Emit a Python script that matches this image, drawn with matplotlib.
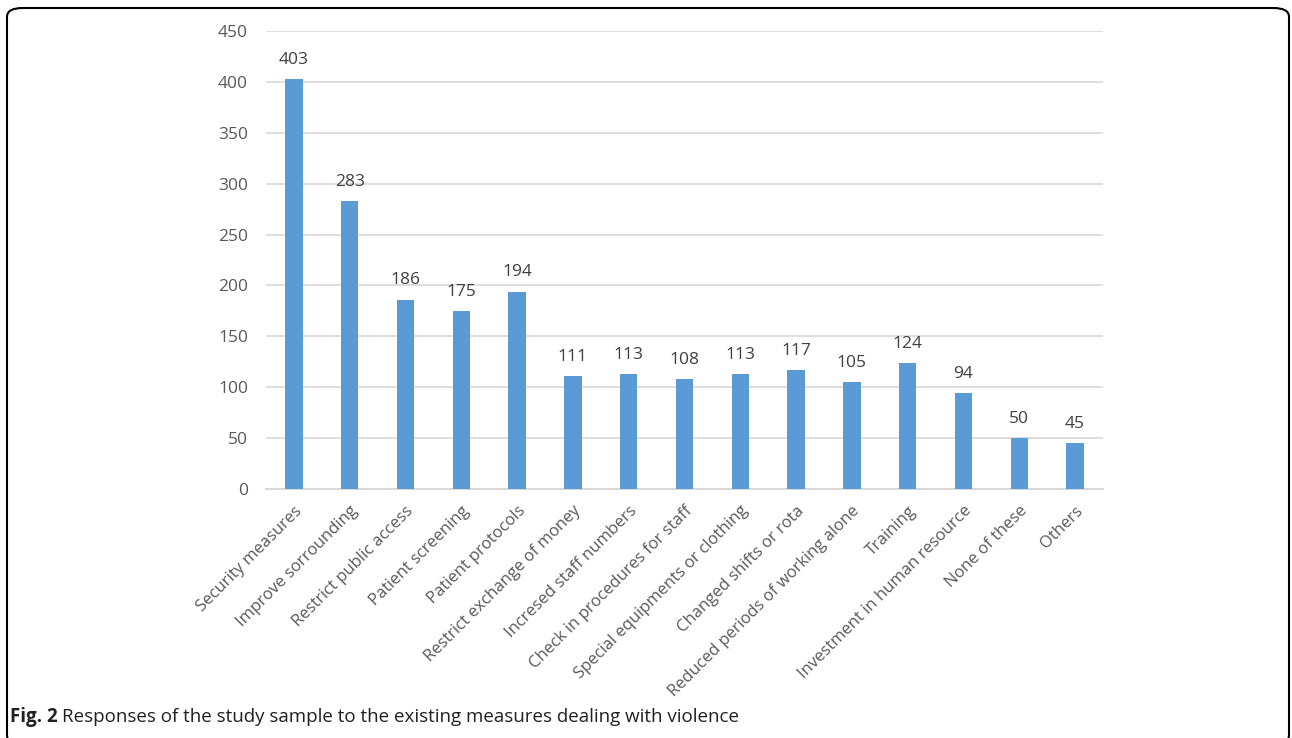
import matplotlib.pyplot as plt
from matplotlib.patches import FancyBboxPatch

categories = [
    "Security measures", "Improve sorrounding", "Restrict public access",
    "Patient screening", "Patient protocols", "Restrict exchange of money",
    "Incresed staff numbers", "Check in procedures for staff",
    "Special equipments or clothing", "Changed shifts or rota",
    "Reduced periods of working alone", "Training",
    "Investment in human resource", "None of these", "Others",
]
responses = [403, 283, 186, 175, 194, 111, 113, 108, 113, 117, 105, 124, 94, 50, 45]
yticks = [0, 50, 100, 150, 200, 250, 300, 350, 400, 450]

plt.rcParams['font.family'] = ['Open Sans', 'DejaVu Sans']
txt = '#595959'
fs = 12.5

fig = plt.figure(figsize=(12.92, 7.38), dpi=100)
ax = fig.add_axes([266 / 1292, 1 - 489 / 738, 837 / 1292, 458 / 738])

x = range(len(categories))
bars = ax.bar(x, responses, width=0.31, color='#5b9bd5', zorder=3)
for b, v in zip(bars, responses):
    ax.text(b.get_x() + b.get_width() / 2, v + 11, str(v), ha='center',
            va='bottom', fontsize=fs, color='#404040')

ax.set_xlim(-0.5, len(categories) - 0.5)
ax.set_ylim(0, 450)
ax.set_yticks(yticks)
ax.set_yticklabels([str(t) for t in yticks], fontsize=fs, color=txt)
ax.set_xticks(list(x))
ax.set_xticklabels(categories, rotation=45, ha='right', rotation_mode='anchor',
                   fontsize=12, color=txt)
ax.tick_params(axis='both', length=0)
ax.tick_params(axis='y', pad=13)
ax.tick_params(axis='x', pad=10)
ax.yaxis.grid(True, color='#d9d9d9', linewidth=1.2, zorder=0)
for s in ['top', 'right', 'left']:
    ax.spines[s].set_visible(False)
ax.spines['bottom'].set_color('#d9d9d9')
ax.spines['bottom'].set_linewidth(1.5)

# outer frame and caption
frame = FancyBboxPatch((7 / 1292, -6 / 738), 1282 / 1292, 736 / 738,
                       boxstyle='round,pad=0,rounding_size=0.012',
                       transform=fig.transFigure, fill=False,
                       edgecolor='black', linewidth=1.5, clip_on=False)
fig.patches.append(frame)
cap_y = 1 - 717 / 738
fig.text(10 / 1292, cap_y, 'Fig. 2', fontsize=13.5, fontweight='bold',
         va='center', color='#231f20')
fig.text(62 / 1292, cap_y,
         'Responses of the study sample to the existing measures dealing with violence',
         fontsize=13.5, va='center', color='#231f20')

fig.savefig('out.png', dpi=100)
